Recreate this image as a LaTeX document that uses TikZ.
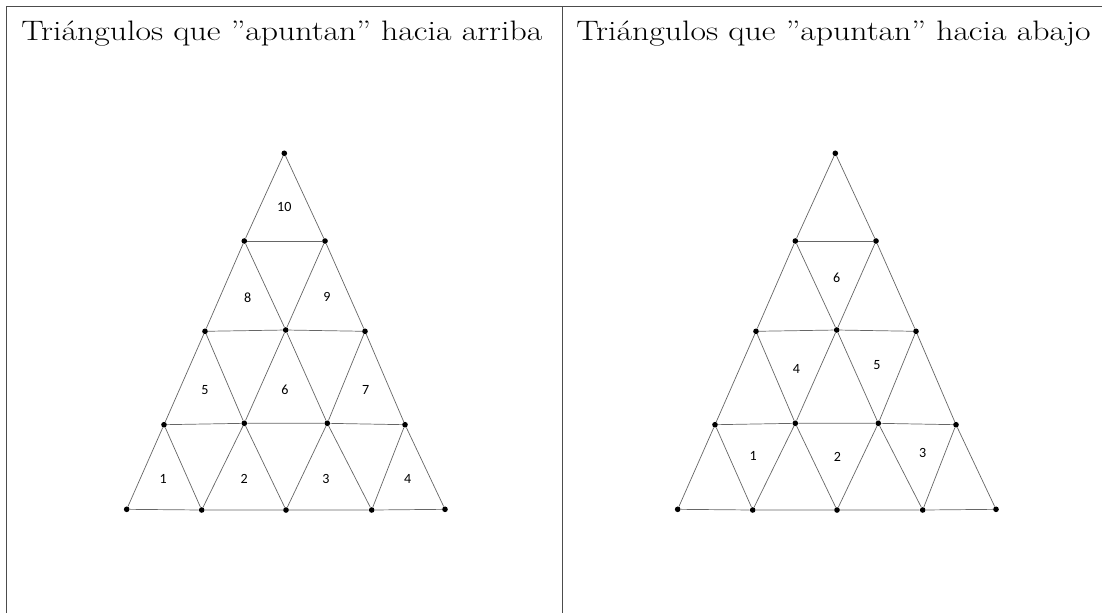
\documentclass[tikz,border=0pt]{standalone}
\usepackage{fontspec}
\newfontfamily\numfont{Carlito}
\newcommand{\headtext}[1]{\scalebox{1.2}[1]{#1}}
\tikzset{
  dot/.style={circle,fill=black,inner sep=0pt,minimum size=4pt},
  edge/.style={draw=black!60,line width=0.5pt},
  num/.style={font=\numfont\fontsize{10}{12}\selectfont},
  head/.style={anchor=base west,inner sep=0pt,font=\fontsize{20}{24}\selectfont}
}
\begin{document}
\begin{tikzpicture}[x=0.025cm,y=-0.025cm]
  \useasboundingbox (0,0) rectangle (1102,613);
  % table frame
  \draw[black!70,line width=0.7pt] (1102,6) -- (6,6) -- (6,613);
  \draw[black!70,line width=0.7pt] (562,6) -- (562,613);
  \node[head] (headL) at (21,40) {\headtext{Triángulos que ”apuntan” hacia arriba}};
  \node[head] (headR) at (576,40) {\headtext{Triángulos que ”apuntan” hacia abajo}};

  \foreach \p/\dx in {L/0,R/551}{
    \begin{scope}[shift={(\dx,0)}]
      \node[dot] (\p11) at (284.3,153.3) {};
      \node[dot] (\p21) at (244.3,241) {};
      \node[dot] (\p22) at (325,241) {};
      \node[dot] (\p31) at (205,331.3) {};
      \node[dot] (\p32) at (285.7,330) {};
      \node[dot] (\p33) at (365,331.3) {};
      \node[dot] (\p41) at (164,424.7) {};
      \node[dot] (\p42) at (244.3,423.3) {};
      \node[dot] (\p43) at (327.3,423.3) {};
      \node[dot] (\p44) at (405,424.7) {};
      \node[dot] (\p51) at (126.7,509.3) {};
      \node[dot] (\p52) at (201.7,510) {};
      \node[dot] (\p53) at (286,510) {};
      \node[dot] (\p54) at (371.7,510) {};
      \node[dot] (\p55) at (445,509.3) {};
    \end{scope}
    % rows
    \draw[edge] (\p21) -- (\p22);
    \draw[edge] (\p31) -- (\p32) -- (\p33);
    \draw[edge] (\p41) -- (\p42) -- (\p43) -- (\p44);
    \draw[edge] (\p51) -- (\p52) -- (\p53) -- (\p54) -- (\p55);
    % rising sides
    \draw[edge] (\p51) -- (\p41) -- (\p31) -- (\p21) -- (\p11);
    \draw[edge] (\p52) -- (\p42) -- (\p32) -- (\p22);
    \draw[edge] (\p53) -- (\p43) -- (\p33);
    \draw[edge] (\p54) -- (\p44);
    % falling sides
    \draw[edge] (\p55) -- (\p44) -- (\p33) -- (\p22) -- (\p11);
    \draw[edge] (\p54) -- (\p43) -- (\p32) -- (\p21);
    \draw[edge] (\p53) -- (\p42) -- (\p31);
    \draw[edge] (\p52) -- (\p41);
  }

  % up triangles
  \node[num] (up10) at (284.3,206.7) {10};
  \node[num] (up8) at (247.7,297.3) {8};
  \node[num] (up9) at (327,297.3) {9};
  \node[num] (up5) at (205,390) {5};
  \node[num] (up6) at (285,390) {6};
  \node[num] (up7) at (365.7,390) {7};
  \node[num] (up1) at (163.3,479.3) {1};
  \node[num] (up2) at (244.3,479.3) {2};
  \node[num] (up3) at (326,479.3) {3};
  \node[num] (up4) at (407.7,479.3) {4};

  % down triangles
  \node[num] (dn6) at (836.7,277.7) {6};
  \node[num] (dn4) at (796.3,368.7) {4};
  \node[num] (dn5) at (877,365.3) {5};
  \node[num] (dn1) at (753.3,456) {1};
  \node[num] (dn2) at (837.3,456.7) {2};
  \node[num] (dn3) at (922.7,453.3) {3};
\end{tikzpicture}
\end{document}
